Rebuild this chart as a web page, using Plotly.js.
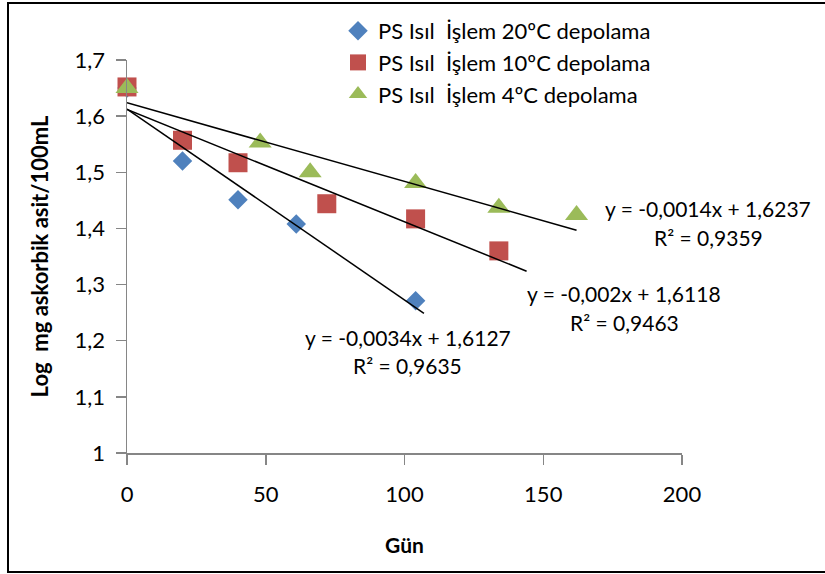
<!DOCTYPE html>
<html>
<head>
<meta charset="utf-8">
<script src="https://cdn.plot.ly/plotly-3.0.1.min.js"></script>
<style>html,body{margin:0;padding:0;background:#fff;}#chart{width:825px;height:574px;}</style>
</head>
<body>
<div id="chart"></div>
<script>
// Data
const seriesNames = ["PS Isıl  İşlem 20ºC depolama", "PS Isıl  İşlem 10ºC depolama", "PS Isıl  İşlem 4ºC depolama"];
const days20 = [0, 20, 40, 61, 104];
const vals20 = [1.65, 1.52, 1.451, 1.408, 1.271];
const days10 = [0, 20, 40, 72, 104, 134];
const vals10 = [1.652, 1.557, 1.517, 1.444, 1.417, 1.360];
const days4 = [0, 48, 66, 104, 134, 162];
const vals4 = [1.650, 1.553, 1.500, 1.481, 1.437, 1.424];
// Linear trendlines (as printed on the chart)
const trendSlopes = [-0.0034, -0.002, -0.0014];
const trendIntercepts = [1.6127, 1.6118, 1.6237];
const trendEnds = [107, 144, 162];
const trendEqs = ["y = -0,0034x + 1,6127", "y = -0,002x + 1,6118", "y = -0,0014x + 1,6237"];
const trendR2 = ["R² = 0,9635", "R² = 0,9463", "R² = 0,9359"];
const xTicks = [0, 50, 100, 150, 200];
const yTicks = [1, 1.1, 1.2, 1.3, 1.4, 1.5, 1.6, 1.7];

const colors = ["#4F81BD", "#C0504D", "#9BBB59"];
const symbols = ["diamond", "square", "triangle-up"];
const sizes = [15, 19, 20];
const FONT = "Lato, 'Noto Sans', sans-serif";

const xs = [days20, days10, days4];
const ys = [vals20, vals10, vals4];
const traces = [];
for (let i = 0; i < 3; i++) {
  traces.push({
    x: xs[i], y: ys[i], type: "scatter", mode: "markers",
    name: seriesNames[i], legendgroup: "g" + i,
    marker: {color: colors[i], symbol: symbols[i], size: sizes[i]},
    cliponaxis: false
  });
}
for (let i = 0; i < 3; i++) {
  const x0 = 0, x1 = trendEnds[i];
  traces.push({
    x: [x0, x1],
    y: [trendIntercepts[i] + trendSlopes[i] * x0, trendIntercepts[i] + trendSlopes[i] * x1],
    type: "scatter", mode: "lines", showlegend: false, hoverinfo: "skip",
    line: {color: "#000000", width: 1.5}
  });
}

// annotation pixel positions -> paper coords
const L = 127, R = 682, T = 60, B = 453;
function px(xp) { return (xp - L) / (R - L); }
function py(yp) { return (B - yp) / (B - T); }
const eqPos = [[408, 337, 407, 365], [624, 293, 624, 322], [708, 208, 708, 237]];
const annotations = [];
for (let i = 0; i < 3; i++) {
  annotations.push({xref: "paper", yref: "paper", x: px(eqPos[i][0]), y: py(eqPos[i][1]), text: trendEqs[i],
    showarrow: false, xanchor: "center", yanchor: "middle", font: {family: FONT, size: 21, color: "#000"}});
  annotations.push({xref: "paper", yref: "paper", x: px(eqPos[i][2]), y: py(eqPos[i][3]), text: trendR2[i],
    showarrow: false, xanchor: "center", yanchor: "middle", font: {family: FONT, size: 21, color: "#000"}});
}

const layout = {
  width: 825, height: 574,
  margin: {l: L, r: 825 - R, t: T, b: 574 - B, pad: 0, autoexpand: false},
  paper_bgcolor: "#fff", plot_bgcolor: "#fff",
  separators: ",.",
  font: {family: FONT, size: 21, color: "#000"},
  showlegend: true,
  legend: {x: px(338), y: py(10), xanchor: "left", yanchor: "top", bgcolor: "rgba(0,0,0,0)",
    font: {family: FONT, size: 22, color: "#000"}, tracegroupgap: 9, traceorder: "normal"},
  xaxis: {range: [0, 200], tickvals: xTicks, ticks: "outside", ticklen: 10, tickcolor: "#868686", tickwidth: 1.5,
    showline: true, linecolor: "#868686", linewidth: 1.5, showgrid: false, zeroline: false,
    ticklabelstandoff: 11, tickfont: {family: FONT, size: 22, color: "#000"},
    title: {text: "<b>Gün</b>", font: {family: FONT, size: 21, color: "#000"}, standoff: 32}},
  yaxis: {range: [1, 1.7], tickvals: yTicks, ticks: "outside", ticklen: 10, tickcolor: "#868686", tickwidth: 1.5,
    showline: true, linecolor: "#868686", linewidth: 1.5, showgrid: false, zeroline: false,
    ticklabelstandoff: 6, tickfont: {family: FONT, size: 22, color: "#000"},
    title: {text: "<b>Log  mg askorbik asit/100mL</b>", font: {family: FONT, size: 22, color: "#000"}, standoff: 20}},
  annotations: annotations,
  shapes: [{type: "rect", xref: "paper", yref: "paper", x0: px(8), x1: px(830), y0: py(572), y1: py(3),
    line: {color: "#000", width: 2}, fillcolor: "rgba(0,0,0,0)", layer: "below"}]
};

Plotly.newPlot("chart", traces, layout, {displayModeBar: false, staticPlot: true});
</script>
</body>
</html>
